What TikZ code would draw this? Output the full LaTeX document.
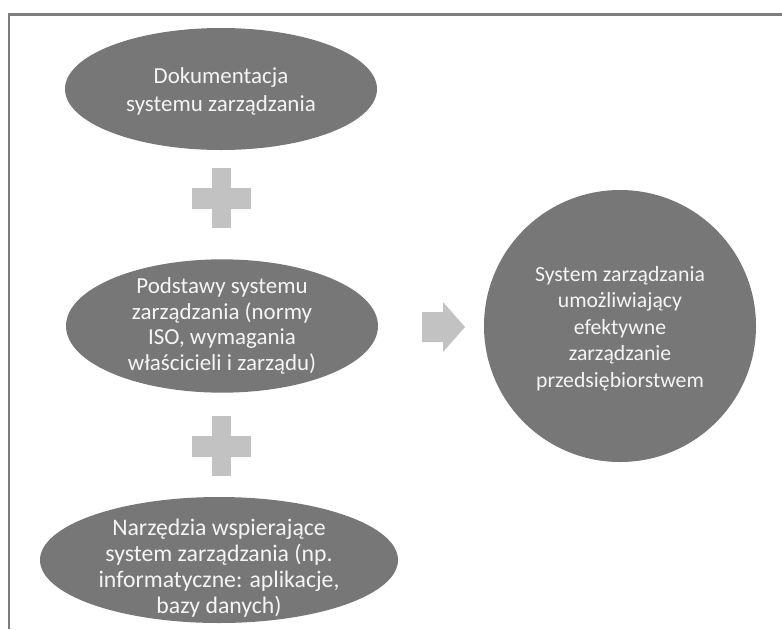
\documentclass[tikz,border=0pt]{standalone}
\usepackage{fontspec}
\setmainfont{Carlito}
\usepackage{tikz}
\usetikzlibrary{shapes.geometric}
\definecolor{blobgray}{HTML}{777777}
\definecolor{signgray}{HTML}{C2C2C2}
\definecolor{framegray}{HTML}{7D7D7D}
\definecolor{txtwhite}{HTML}{F5F5F5}
\tikzset{
  every picture/.style={line join=round, line cap=round, x=0.75pt, y=-0.75pt},
  blob/.style={ellipse, fill=blobgray, inner sep=0pt, outer sep=0pt},
  blobtxt/.style={text=txtwhite, align=center, inner sep=0pt, font=\fontsize{17.2}{19.3}\selectfont},
  sign/.style={fill=signgray},
}

\begin{document}
\begin{tikzpicture}
\useasboundingbox (0,0) rectangle (782,629);
\draw[framegray, line width=2.2pt, line cap=butt, line join=miter] (9,629) -- (9,14.5) -- (782,14.5);
\node[blob, minimum width=234pt, minimum height=91.5pt,
  label={[blobtxt, font=\fontsize{17.2}{21}\selectfont, yshift=-1.5pt]center:Dokumentacja\\systemu zarządzania}] (doc) at (221,89) {};
\node[blob, minimum width=234pt, minimum height=100pt,
  label={[blobtxt]center:Podstawy systemu\\zarządzania (normy\\ISO, wymagania\\właścicieli i zarządu)}] (podst) at (222,326) {};
\node[blob, minimum width=268.5pt, minimum height=94.5pt,
  label={[blobtxt, font=\fontsize{17.8}{19.6}\selectfont, yshift=-6pt]center:Narzędzia wspierające\\system zarządzania (np.\\informatyczne: aplikacje,\\bazy danych)}] (narz) at (219,560) {};
\node[blob, circle, minimum size=204pt,
  label={[blobtxt, font=\fontsize{16.3}{19.9}\selectfont, yshift=-2pt]center:System zarządzania\\umożliwiający\\efektywne\\zarządzanie\\przedsiębiorstwem}] (system) at (620,326) {};
% plus signs
\foreach \py in {198,446}{
  \fill[sign] (212,\py-30) rectangle (231,\py+30);
  \fill[sign] (192,\py-10.5) rectangle (251,\py+10.5);
}
% arrow
\fill[sign] (422,312) -- (443,312) -- (443,302) -- (465,327) -- (443,352) -- (443,342) -- (422,342) -- cycle;
\end{tikzpicture}
\end{document}
